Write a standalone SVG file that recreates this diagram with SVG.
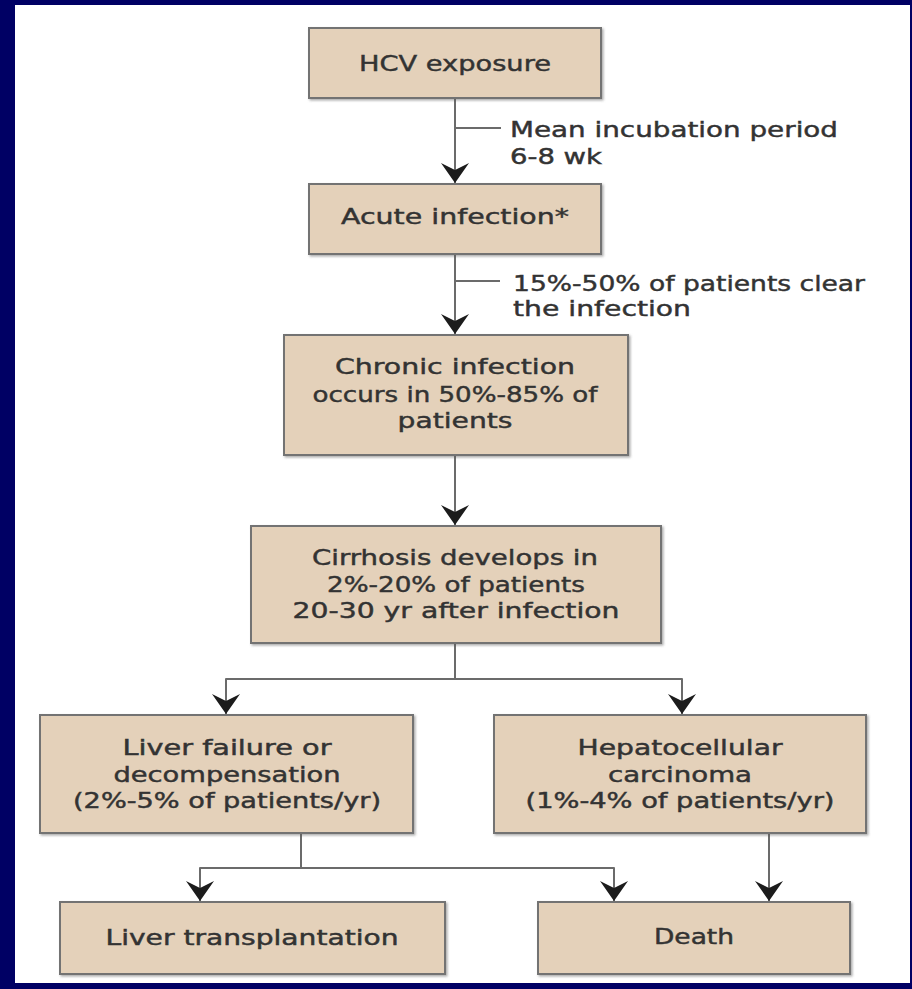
<svg xmlns="http://www.w3.org/2000/svg" width="912" height="989" viewBox="0 0 912 989">
  <style>
    .box { fill: #e4d1ba; stroke: #737373; stroke-width: 2; }
    .t { font-family: "DejaVu Sans", "Liberation Sans", sans-serif; font-size: 22px; fill: #333333; stroke: #333333; stroke-width: 0.45; text-anchor: middle; }
    .s { font-size: 21px; }
    .l { text-anchor: start; }
    .conn { fill: none; stroke: #6b6b6b; stroke-width: 2; stroke-linejoin: round; }
  </style>
  <defs>
    <marker id="arr" viewBox="-21 -15 22 30" refX="0" refY="0" markerWidth="22" markerHeight="30" orient="auto" markerUnits="userSpaceOnUse">
      <path d="M0,0 L-20,-14 L-13,0 L-20,14 Z" fill="#1c1c1c"/>
    </marker>
    <filter id="sh" x="-5%" y="-5%" width="112%" height="120%">
      <feDropShadow dx="1.5" dy="1.5" stdDeviation="1" flood-color="#555555" flood-opacity="0.5"/>
    </filter>
  </defs>

  <rect x="0" y="0" width="912" height="989" fill="#000064"/>
  <rect x="15" y="5" width="895" height="978" fill="#ffffff"/>

  <g id="connectors">
    <line class="conn" x1="455" y1="98" x2="455" y2="183" marker-end="url(#arr)"/>
    <line class="conn" x1="455" y1="128" x2="501" y2="128"/>
    <line class="conn" x1="455" y1="254" x2="455" y2="334" marker-end="url(#arr)"/>
    <line class="conn" x1="455" y1="281" x2="500" y2="281"/>
    <line class="conn" x1="455" y1="455" x2="455" y2="525" marker-end="url(#arr)"/>
    <polyline class="conn" points="455,643 455,679"/>
    <polyline class="conn" points="455,679 226,679 226,714" marker-end="url(#arr)"/>
    <polyline class="conn" points="455,679 682,679 682,714" marker-end="url(#arr)"/>
    <polyline class="conn" points="301,833 301,868"/>
    <polyline class="conn" points="301,868 200,868 200,901" marker-end="url(#arr)"/>
    <polyline class="conn" points="301,868 614,868 614,901" marker-end="url(#arr)"/>
    <line class="conn" x1="769" y1="833" x2="769" y2="901" marker-end="url(#arr)"/>
    <text class="t l" x="510" y="137" textLength="328" lengthAdjust="spacingAndGlyphs">Mean incubation period</text>
    <text class="t l" x="510" y="164" textLength="92" lengthAdjust="spacingAndGlyphs">6-8 wk</text>
    <text class="t l" x="513" y="291" textLength="352" lengthAdjust="spacingAndGlyphs">15%-50% of patients clear</text>
    <text class="t l" x="513" y="316" textLength="178" lengthAdjust="spacingAndGlyphs">the infection</text>
  </g>

  <g id="hcv">
    <rect class="box" x="309" y="28" width="292" height="70" filter="url(#sh)"/>
    <text class="t" x="455" y="71" textLength="192" lengthAdjust="spacingAndGlyphs">HCV exposure</text>
  </g>

  <g id="acute">
    <rect class="box" x="309" y="184" width="292" height="70" filter="url(#sh)"/>
    <text class="t" x="455" y="224" textLength="228" lengthAdjust="spacingAndGlyphs">Acute infection*</text>
  </g>

  <g id="chronic">
    <rect class="box" x="284" y="335" width="344" height="120" filter="url(#sh)"/>
    <text class="t" x="455" y="374" textLength="240" lengthAdjust="spacingAndGlyphs">Chronic infection</text>
    <text class="t" x="455" y="402" textLength="285" lengthAdjust="spacingAndGlyphs">occurs in 50%-85% of</text>
    <text class="t" x="455" y="428" textLength="115" lengthAdjust="spacingAndGlyphs">patients</text>
  </g>

  <g id="cirrhosis">
    <rect class="box" x="251" y="526" width="410" height="117" filter="url(#sh)"/>
    <text class="t" x="455" y="565" textLength="286" lengthAdjust="spacingAndGlyphs">Cirrhosis develops in</text>
    <text class="t" x="456" y="592" textLength="258" lengthAdjust="spacingAndGlyphs">2%-20% of patients</text>
    <text class="t" x="456" y="618" textLength="327" lengthAdjust="spacingAndGlyphs">20-30 yr after infection</text>
  </g>

  <g id="liver-failure">
    <rect class="box" x="40" y="715" width="373" height="118" filter="url(#sh)"/>
    <text class="t s" x="227" y="755" textLength="209" lengthAdjust="spacingAndGlyphs">Liver failure or</text>
    <text class="t s" x="227" y="782" textLength="227" lengthAdjust="spacingAndGlyphs">decompensation</text>
    <text class="t s" x="227" y="808" textLength="308" lengthAdjust="spacingAndGlyphs">(2%-5% of patients/yr)</text>
  </g>

  <g id="hcc">
    <rect class="box" x="494" y="715" width="372" height="118" filter="url(#sh)"/>
    <text class="t s" x="680" y="755" textLength="205" lengthAdjust="spacingAndGlyphs">Hepatocellular</text>
    <text class="t s" x="680" y="782" textLength="144" lengthAdjust="spacingAndGlyphs">carcinoma</text>
    <text class="t s" x="680" y="808" textLength="309" lengthAdjust="spacingAndGlyphs">(1%-4% of patients/yr)</text>
  </g>

  <g id="transplant">
    <rect class="box" x="60" y="902" width="385" height="72" filter="url(#sh)"/>
    <text class="t s" x="252" y="945" textLength="293" lengthAdjust="spacingAndGlyphs">Liver transplantation</text>
  </g>

  <g id="death">
    <rect class="box" x="538" y="902" width="312" height="72" filter="url(#sh)"/>
    <text class="t s" x="694" y="944" textLength="80" lengthAdjust="spacingAndGlyphs">Death</text>
  </g>
</svg>
